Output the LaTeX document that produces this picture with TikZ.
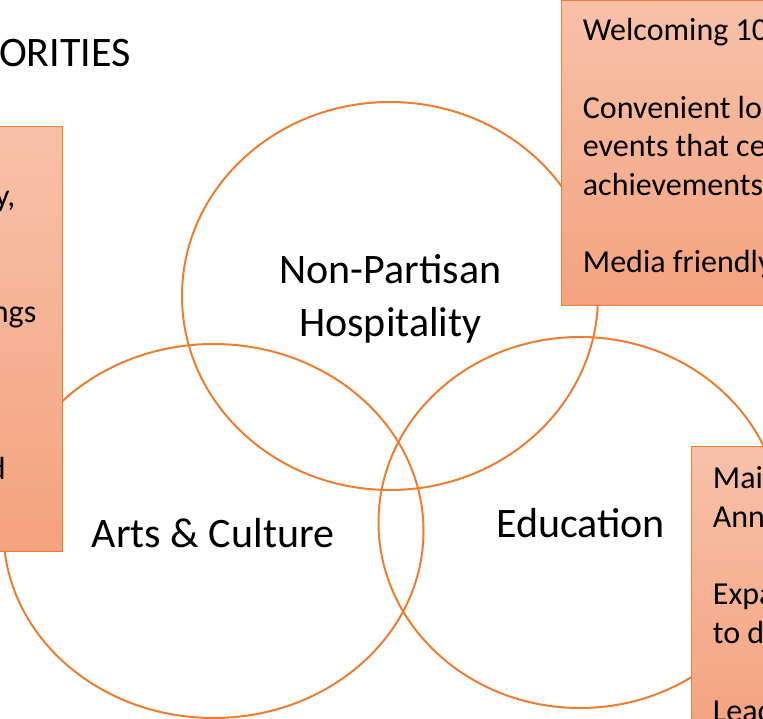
\documentclass[tikz,border=0pt]{standalone}
\usepackage{fontspec}
\setmainfont{Carlito}
\usetikzlibrary{shapes.geometric}
\definecolor{ringorange}{HTML}{ED7D31}
\definecolor{boxtop}{HTML}{F7C1A9}
\definecolor{boxbot}{HTML}{F4A27E}
\tikzset{
  ring/.style={ellipse, draw=ringorange, line width=2pt, minimum width=#1, inner sep=0pt},
  notebox/.style={draw=ringorange, line width=1pt, top color=boxtop, bottom color=boxbot},
  big/.style={font=\fontsize{42}{52}\selectfont, inner sep=0pt},
  small/.style={font=\fontsize{32}{38.7}\selectfont, inner sep=0pt, anchor=base west},
  smallr/.style={font=\fontsize{32}{38.7}\selectfont, inner sep=0pt, anchor=base east}
}
\begin{document}
\begin{tikzpicture}[x=1pt,y=-1pt]
\useasboundingbox (0,0) rectangle (763,719);
% title
\node[big, anchor=base east] (title) at (131,66.5) {ORITIES};
% circles
\node[ring=416pt, minimum height=388pt] (hosp) at (390,296) {};
\node[ring=420pt, minimum height=374pt] (arts) at (213.5,531) {};
\node[ring=403pt, minimum height=371pt] (edu) at (580,522.5) {};
% circle labels
\node[big, anchor=base] (hosp1) at (390.5,284) {Non-Partisan};
\node[big, anchor=base] (hosp2) at (390.5,336) {Hospitality};
\node[big, anchor=base] (artsl) at (213,547) {Arts \& Culture};
\node[big, anchor=base] (edul) at (580.5,537) {Education};
% boxes
\draw[notebox] (-10,126.5) rectangle (62.7,551);
\draw[notebox] (561.5,0.5) rectangle (780,306);
\draw[notebox] (691,446.7) rectangle (780,740);
% left box text
\node[smallr] (l1) at (15.5,207) {y,};
\node[smallr] (l2) at (36.5,323) {ngs};
\node[smallr] (l3) at (6,479) {d};
% top right box text
\node[small] (r1) at (582.7,40.7) {Welcoming 10};
\node[small] (r2) at (582.7,118.1) {Convenient lo};
\node[small] (r3) at (582.7,156.8) {events that ce};
\node[small] (r4) at (582.7,195.5) {achievements};
\node[small] (r5) at (582.7,272.9) {Media friendly};
% bottom right box text
\node[small] (b1) at (712.7,488.3) {Mai};
\node[small] (b2) at (712.7,527) {Ann};
\node[small] (b3) at (712.7,604.4) {Expa};
\node[small] (b4) at (712.7,643) {to d};
\node[small] (b5) at (712.7,721.5) {Lead};
\end{tikzpicture}
\end{document}
